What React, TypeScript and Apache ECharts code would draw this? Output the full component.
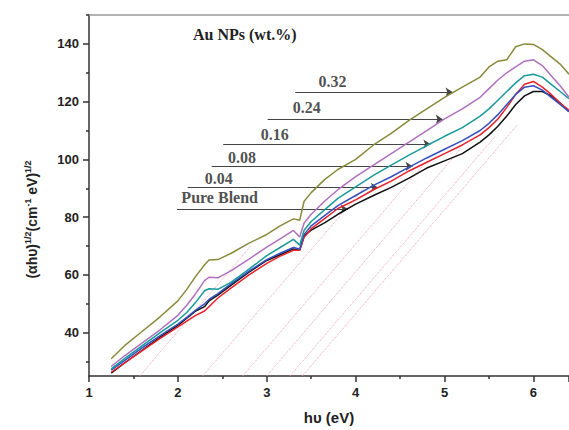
import React, { useEffect, useRef } from "react";
import * as echarts from "echarts";

const energy = [1.25, 1.4, 1.6, 1.8, 2.0, 2.1, 2.2, 2.3, 2.35, 2.45, 2.6, 2.8, 3.0, 3.15, 3.3, 3.37, 3.42, 3.5, 3.65, 3.8, 4.0, 4.2, 4.4, 4.6, 4.8, 5.0, 5.2, 5.4, 5.5, 5.6, 5.7, 5.8, 5.9, 6.0, 6.1, 6.2, 6.3, 6.4];

const pureBlend = [26.0, 29.5, 34, 38.5, 42.5, 45, 47.5, 49, 51, 53, 56.5, 61, 65, 67, 69, 68.5, 73.5, 75.5, 78, 81, 84.5, 87.5, 90.3, 93.5, 97, 99.5, 102, 106, 108.5, 111.5, 115, 119, 122, 123.5, 123.5, 122, 119.5, 116.5];
const au004 = [26.3, 29.5, 33.8, 38, 42, 44, 46, 47.5, 49, 52, 55.5, 60, 64, 66.5, 68.5, 68.5, 73, 76, 79.5, 83, 86, 89.5, 92.5, 96, 99, 102, 105, 108.5, 111, 114, 118, 122.5, 126, 127, 125, 122.5, 119.5, 117];
const au008 = [27.0, 30.3, 34.8, 39, 43, 45.3, 47.8, 50, 51.5, 53.5, 57, 61.3, 65.3, 67.5, 69.5, 69, 74, 77, 80.5, 84, 87.5, 91, 94, 97.3, 100.5, 103.5, 106.5, 110, 112.5, 115.5, 119, 122.5, 125, 125.5, 124, 121.5, 119, 116.5];
const au016 = [27.5, 31, 35.5, 40, 44.3, 47, 50.5, 54.5, 55.2, 55, 57.5, 62, 66.7, 69.5, 72.3, 70.3, 75.5, 78.5, 82.5, 86.5, 90.5, 94.5, 98, 101.5, 104.8, 108, 111, 115, 117.5, 120.5, 123.5, 126.5, 129, 129.5, 128.5, 126, 123.5, 121];
const au024 = [28.3, 32, 36.5, 41, 46, 49.5, 53.5, 58, 59.2, 59, 61.5, 65.5, 69.6, 72.5, 75.4, 73.1, 78, 81, 85.5, 89.5, 94, 98, 102, 106, 110, 114, 117.5, 121.5, 124.5, 127.5, 130, 132, 134, 134.5, 132.5, 129, 125.5, 121.5];
const au032 = [31.0, 35.5, 40.5, 45.5, 51, 55, 59.5, 63.5, 65.2, 65.3, 67.5, 71, 74, 77, 79.4, 78.9, 85.5, 88.5, 93, 96.5, 100, 105, 109, 113.5, 117.5, 121.5, 125, 128.5, 132, 134, 134.5, 139, 140, 139.8, 138, 135.5, 133, 129.5];

const seriesNames = ["Pure Blend", "0.04", "0.08", "0.16", "0.24", "0.32"];
const seriesValues = [pureBlend, au004, au008, au016, au024, au032];
const seriesColors = ["#111111", "#e8202a", "#3550c0", "#1a9a9a", "#b070c0", "#8a8a3c"];

// annotation arrows: y level, line start x, arrow end x, label x, label y
const annoY = [82.8, 90.3, 97.6, 105.3, 113.9, 123.3];
const annoStartX = [1.99, 2.11, 2.38, 2.51, 3.01, 3.32];
const annoEndX = [3.91, 4.25, 4.64, 4.84, 4.98, 5.09];
const annoLabelX = [2.47, 2.46, 2.72, 3.09, 3.45, 3.74];
const annoLabelY = [86.7, 93.5, 100.6, 108.6, 118.1, 127.1];

// Tauc extrapolation dotted lines: x at baseline, end x, end y
const taucX0 = [1.57, 2.28, 2.73, 3.0, 3.26, 3.4];
const taucX1 = [2.82, 4.09, 4.76, 5.19, 5.57, 5.82];
const taucY1 = [70, 90, 98, 104, 108, 112];
const taucBase = 25;

const yMajor = [40, 60, 80, 100, 120, 140];
const yMinor = [30, 50, 70, 90, 110, 130, 150];

export default function App() {
  const ref = useRef<HTMLDivElement>(null);
  useEffect(() => {
    if (!ref.current) return;
    const chart = echarts.init(ref.current, null, { renderer: "svg" });
    const curveSeries = seriesNames.map((n, i) => ({
      name: n,
      type: "line",
      data: energy.map((x, j) => [x, seriesValues[i][j]]),
      showSymbol: false,
      lineStyle: { color: seriesColors[i], width: 1.5 },
      z: 5,
    }));
    const taucSeries = taucX0.map((x0, i) => ({
      type: "line",
      data: [[x0, taucBase], [taucX1[i], taucY1[i]]],
      showSymbol: false,
      lineStyle: { color: "#f0a0b4", width: 1, type: "dotted" },
      z: 2,
    }));
    const arrowSeries = {
      type: "line",
      data: [],
      markLine: {
        silent: true,
        symbol: ["none", "arrow"],
        symbolSize: 7,
        label: { show: false },
        lineStyle: { color: "#444", width: 1, type: "solid" },
        data: annoY.map((y, i) => [
          { coord: [annoStartX[i], y] },
          { coord: [annoEndX[i], y] },
        ]),
      },
      z: 4,
    };
    const labelSeries = {
      type: "scatter",
      symbolSize: 0,
      data: seriesNames.map((n, i) => ({ name: n, value: [annoLabelX[i], annoLabelY[i]] })),
      label: {
        show: true,
        position: "inside",
        formatter: (p: any) => p.name,
        fontFamily: "Liberation Serif",
        fontWeight: "bold",
        fontSize: 16,
        color: "#222",
      },
      z: 6,
    };
    chart.setOption({
      animation: false,
      title: {
        text: "Au NPs (wt.%)",
        left: 188,
        top: 21,
        textStyle: { fontFamily: "Liberation Serif", fontWeight: "bold", fontSize: 16, color: "#222" },
      },
      grid: { left: 89, top: 15, right: 0, bottom: 54 },
      xAxis: [
        {
          type: "value",
          min: 1,
          max: 6.4,
          interval: 1,
          position: "bottom",
          name: "hυ (eV)",
          nameLocation: "middle",
          nameGap: 34,
          nameTextStyle: { fontFamily: "Liberation Sans", fontWeight: "bold", fontSize: 15, color: "#222" },
          axisLine: { lineStyle: { color: "#333", width: 1.5 } },
          axisTick: { length: 6, lineStyle: { color: "#333", width: 1.5 } },
          minorTick: { show: true, splitNumber: 2, length: 3, lineStyle: { color: "#333", width: 1.5 } },
          axisLabel: { fontFamily: "Liberation Sans", fontWeight: "bold", fontSize: 13, color: "#222", margin: 10, showMaxLabel: false },
          splitLine: { show: false },
        },
        {
          type: "value",
          min: 1,
          max: 6.4,
          position: "top",
          axisLine: { lineStyle: { color: "#999", width: 1.5 } },
          axisTick: { show: false },
          axisLabel: { show: false },
          splitLine: { show: false },
        },
      ],
      yAxis: [
        {
          type: "value",
          min: 25,
          max: 150,
          position: "left",
          name: "(αhυ){sup|1/2}(cm{sup|-1} eV){sup|1/2}",
          nameLocation: "middle",
          nameGap: 48,
          nameRotate: 90,
          nameTextStyle: {
            fontFamily: "Liberation Sans",
            fontWeight: "bold",
            fontSize: 14,
            color: "#222",
            padding: [0, 48, 0, 0],
            rich: {
              sup: { fontFamily: "Liberation Sans", fontWeight: "bold", fontSize: 9, color: "#222", verticalAlign: "bottom", padding: [0, 0, 9, 0] },
            },
          },
          axisLine: { show: true, lineStyle: { color: "#333", width: 1.5 } },
          axisTick: { show: true, length: 6, customValues: yMajor, lineStyle: { color: "#333", width: 1.5 } },
          axisLabel: { customValues: yMajor, fontFamily: "Liberation Sans", fontWeight: "bold", fontSize: 13, color: "#222", margin: 10 },
          splitLine: { show: false },
        },
        {
          type: "value",
          min: 25,
          max: 150,
          position: "left",
          axisLine: { show: false },
          axisTick: { show: true, length: 3, customValues: yMinor, lineStyle: { color: "#333", width: 1.5 } },
          axisLabel: { show: false },
          splitLine: { show: false },
        },
      ],
      series: [...taucSeries, ...curveSeries, arrowSeries, labelSeries],
    });
    return () => chart.dispose();
  }, []);
  return <div ref={ref} style={{ width: 569, height: 430, position: "absolute", left: 0, top: 0 }} />;
}
